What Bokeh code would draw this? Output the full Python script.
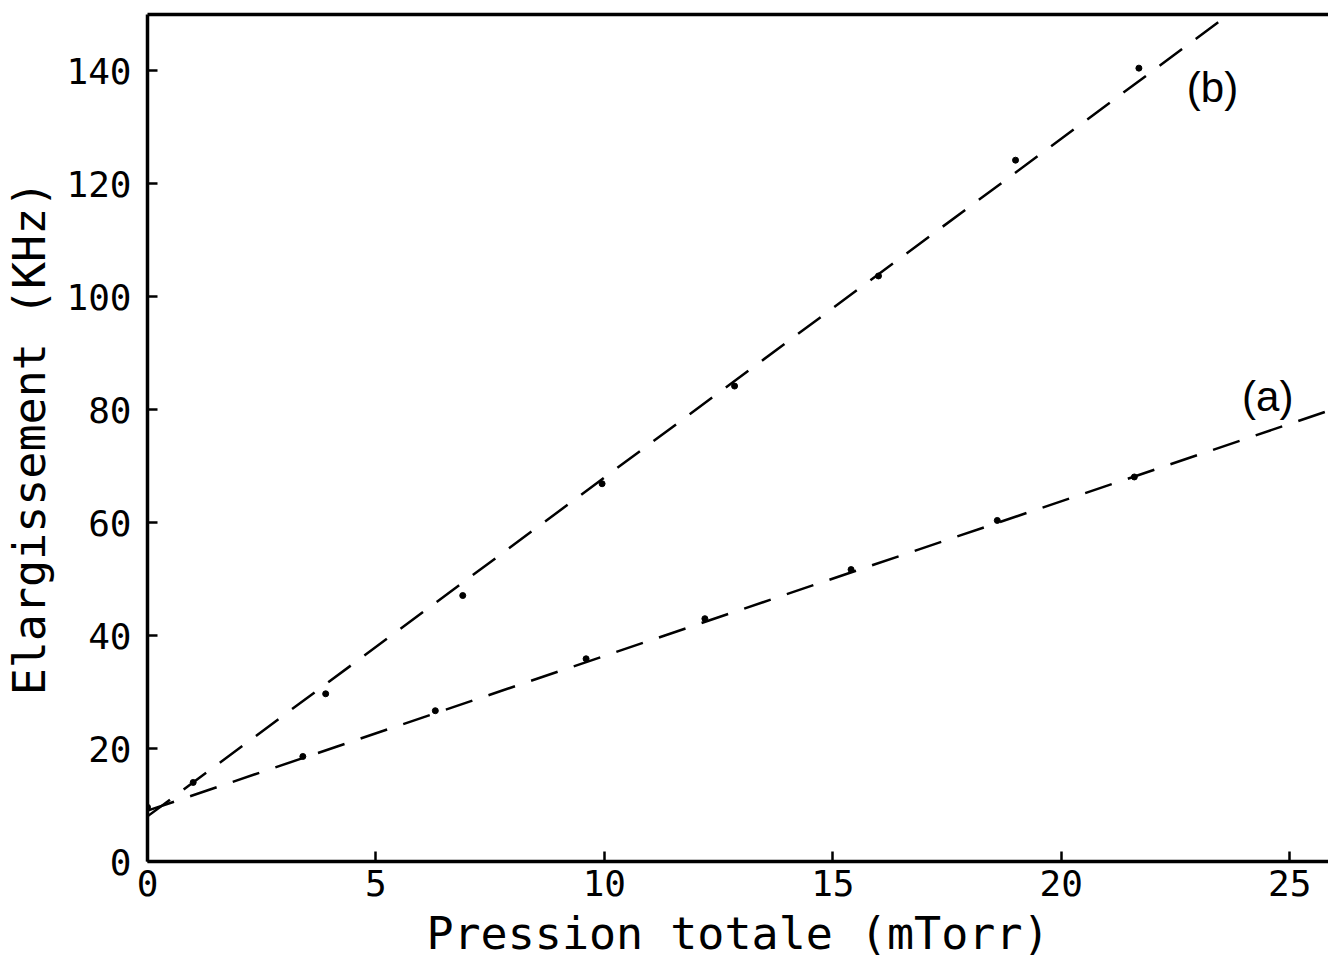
from bokeh.plotting import figure
from bokeh.models import LinearAxis, Range1d, FixedTicker, ColumnDataSource
from bokeh.core.properties import value
from bokeh.embed import file_html
from bokeh.resources import INLINE

# Measured broadening vs total pressure, two series
pressure_a = [0.0, 3.4, 6.3, 9.6, 12.2, 15.4, 18.6, 21.6]
width_a = [9.6, 18.6, 26.7, 35.9, 43.0, 51.7, 60.4, 68.1]

pressure_b = [1.0, 3.9, 6.9, 9.95, 12.85, 16.0, 19.0, 21.7]
width_b = [14.0, 29.7, 47.1, 66.9, 84.2, 103.7, 124.2, 140.5]

# Linear fits (intercept, slope)
fit_a = (9.0, 2.74)
fit_b = (8.0, 6.0)

x_ticks = [0, 5, 10, 15, 20, 25]
y_ticks = [0, 20, 40, 60, 80, 100, 120, 140]

X_MAX = 25.85
Y_MAX = 150.0

mono = "DejaVu Sans Mono"

p = figure(width=1328, height=962, output_backend="svg", toolbar_location=None,
           x_range=Range1d(0, X_MAX), y_range=Range1d(0, Y_MAX),
           min_border_left=147, min_border_right=0, min_border_top=14,
           min_border_bottom=100, background_fill_color="white",
           border_fill_color="white")
p.outline_line_color = None
p.xgrid.visible = False
p.ygrid.visible = False

for ax in (p.xaxis[0], p.yaxis[0]):
    ax.axis_line_width = 3.5
    ax.axis_line_color = "black"
    ax.major_tick_in = 10
    ax.major_tick_out = 0
    ax.major_tick_line_width = 2.5
    ax.minor_tick_line_color = None
    ax.major_label_text_font = mono
    ax.major_label_text_font_size = "36px"
    ax.major_label_text_color = "black"
    ax.axis_label_text_font = mono
    ax.axis_label_text_font_size = "45px"
    ax.axis_label_text_font_style = "normal"
    ax.axis_label_text_color = "black"

p.xaxis[0].ticker = FixedTicker(ticks=x_ticks)
p.yaxis[0].ticker = FixedTicker(ticks=y_ticks)
p.xaxis[0].axis_label = "Pression totale (mTorr)"
p.yaxis[0].axis_label = "Elargissement (KHz)"
p.xaxis[0].major_label_standoff = 8
p.yaxis[0].major_label_standoff = 16
p.xaxis[0].axis_label_standoff = 8
p.yaxis[0].axis_label_standoff = 7

# Top frame line
top = LinearAxis(ticker=FixedTicker(ticks=[]), major_label_text_font_size="0px",
                 major_tick_in=0, major_tick_out=0, minor_tick_line_color=None,
                 axis_line_width=3.5, axis_line_color="black")
p.add_layout(top, "above")

# Fitted lines across the whole range
def fit_line(fit):
    b0, m = fit
    xs = [0.0, X_MAX]
    return xs, [b0 + m * x for x in xs]

xa, ya = fit_line(fit_a)
xb, yb = fit_line(fit_b)
p.line(xa, ya, line_color="black", line_width=2.5, line_dash="28 17")
p.line(xb, yb, line_color="black", line_width=2.5, line_dash="28 17")

p.scatter(pressure_a, width_a, size=6, color="black")
p.scatter(pressure_b, width_b, size=6, color="black")

labels = ColumnDataSource(dict(x=[23.31, 24.52], y=[137.0, 82.4], t=["(b)", "(a)"]))
p.text(x="x", y="y", text="t", source=labels, text_font=value("Liberation Sans"),
       text_font_size="42px", text_align="center", text_baseline="middle",
       text_color="black")

open("out.html", "w").write(file_html(p, INLINE))
